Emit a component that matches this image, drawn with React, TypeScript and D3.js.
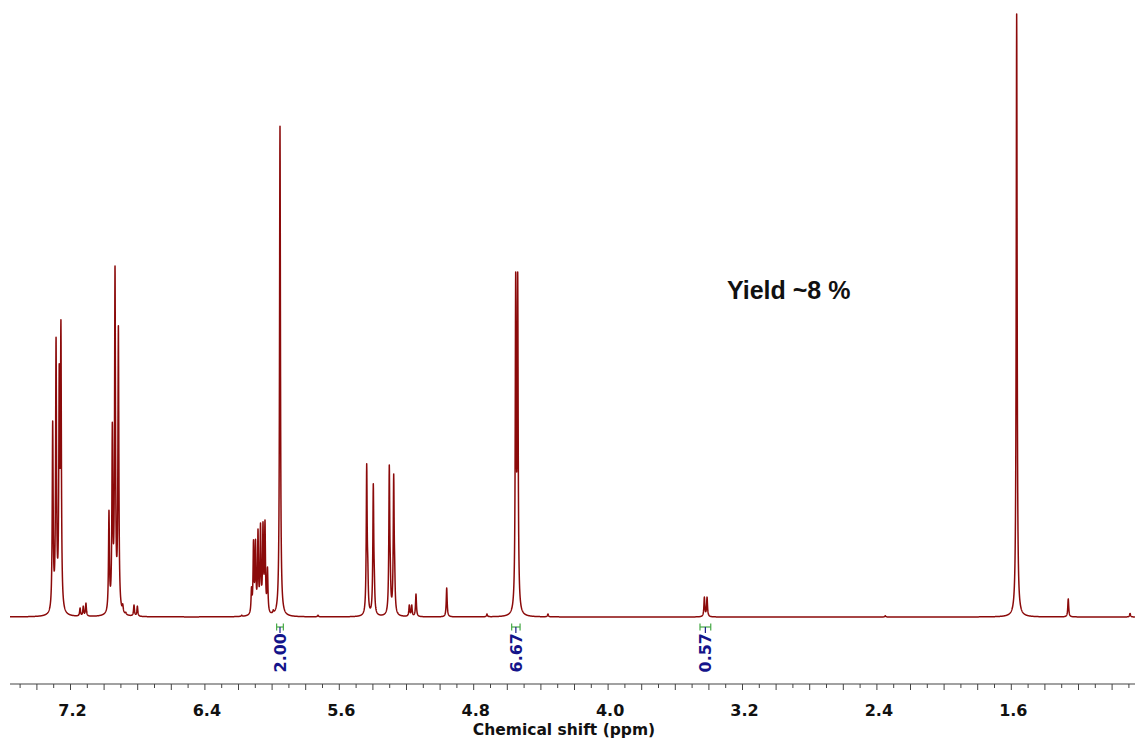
import React from "react";
import * as d3 from "d3";

// Peak positions (ppm) and observed peak-top intensities (largest = 100)
const peakPpm = [
  7.306, 7.286, 7.267, 7.257,
  7.143, 7.124, 7.108,
  6.971, 6.951, 6.935, 6.915,
  6.889, 6.871, 6.822, 6.802,
  6.181,
  6.1226, 6.1107, 6.0988, 6.0839, 6.069, 6.0542, 6.0423, 6.0274, 5.993,
  5.953,
  5.727,
  5.4369, 5.4305, 5.3976, 5.3915, 5.3024, 5.2965, 5.2762, 5.2705,
  5.1833, 5.169, 5.1435, 4.9607,
  4.721,
  4.55, 4.5381,
  4.358,
  3.427, 3.411,
  2.35,
  1.568, 1.261,
  0.893,
];
const peakHeight = [
  32.5, 46.4, 42.0, 49.3,
  1.5, 1.8, 2.3,
  17.7, 32.3, 58.2, 48.3,
  2.2, 0.8, 2.0, 1.8,
  0.3,
  5.0, 12.8, 12.9, 14.6, 15.6, 15.8, 16.1, 8.3, 1.2,
  81.4,
  0.3,
  25.4, 10.0, 22.1, 8.0, 25.2, 10.0, 23.7, 10.0,
  2.0, 2.0, 3.8, 4.8,
  0.5,
  57.2, 57.2,
  0.5,
  3.3, 3.3,
  0.2,
  100, 3.0,
  0.6,
];
const lineWidthPpm = 0.0032;

// Axis ticks
const tickLabels = [7.2, 6.4, 5.6, 4.8, 4.0, 3.2, 2.4, 1.6];

// Integrals: [from ppm, to ppm, value]
const integralFrom = [5.973, 4.574, 3.453];
const integralTo = [5.933, 4.524, 3.389];
const integralValue = ["2.00", "6.67", "0.57"];

const annotation = "Yield ~8 %";
const axisTitle = "Chemical shift (ppm)";

const W = 1135;
const H = 738;

function lorentz(d: number) {
  const u = d / lineWidthPpm;
  return 1 / (1 + u * u);
}

export default function App() {
  const x = d3.scaleLinear().domain([7.2, 1.6]).range([70.5, 70.5 + 5.6 * 168]);
  const y = d3.scaleLinear().domain([0, 100]).range([617, 14]);
  const ppmLeft = x.invert(10);
  const ppmRight = x.invert(W);

  // amplitudes so that summed lines reach the observed peak tops
  const n = peakPpm.length;
  const amp = peakHeight.slice();
  for (let it = 0; it < 60; it++) {
    for (let i = 0; i < n; i++) {
      let s = 0;
      for (let j = 0; j < n; j++) s += amp[j] * lorentz(peakPpm[i] - peakPpm[j]);
      amp[i] = Math.max(0, amp[i] + 0.7 * (peakHeight[i] - s));
    }
  }

  // sampling grid in ppm, plus peak centres
  const grid: number[] = [];
  const step = 0.0008;
  for (let p = ppmLeft; p >= ppmRight; p -= step) grid.push(p);
  peakPpm.forEach((p) => grid.push(p));
  grid.sort((a, b) => b - a);

  const spectrum = grid.map((p) => {
    let s = 0;
    for (let i = 0; i < n; i++) s += amp[i] * lorentz(p - peakPpm[i]);
    return [p, s] as [number, number];
  });

  const line = d3
    .line<[number, number]>()
    .x((d) => x(d[0]))
    .y((d) => y(d[1]));

  const axisY = 684;
  const ticks: number[] = [];
  for (let t = Math.ceil(ppmRight * 10); t <= Math.floor(ppmLeft * 10); t++) ticks.push(t / 10);

  const labelFont = "'DejaVu Sans', Verdana, sans-serif";

  return (
    <svg
      width={W}
      height={H}
      style={{ position: "absolute", left: 0, top: 0, background: "#fff" }}
    >
      <rect width={W} height={H} fill="#fff" />
      <path
        d={line(spectrum) || ""}
        fill="none"
        stroke="#8b0a0a"
        strokeWidth={1.5}
        strokeLinejoin="round"
      />
      {/* integrals */}
      {integralValue.map((v, i) => {
        const x0 = x(integralFrom[i]);
        const x1 = x(integralTo[i]);
        const cx = (x0 + x1) / 2;
        return (
          <g key={v}>
            <line x1={x0} x2={x1} y1={627} y2={627} stroke="#45a845" strokeWidth={1.2} />
            <line x1={x0} x2={x0} y1={623.5} y2={630.5} stroke="#45a845" strokeWidth={1.2} />
            <line x1={x1} x2={x1} y1={623.5} y2={630.5} stroke="#45a845" strokeWidth={1.2} />
            <line x1={cx} x2={cx} y1={627} y2={633} stroke="#1a1a8c" strokeWidth={1.2} />
            <text
              transform={`translate(${cx + 5.8},${633}) rotate(-90)`}
              textAnchor="end"
              fontFamily={labelFont}
              fontWeight="bold"
              fontSize={16}
              fill="#14148a"
            >
              {v}
            </text>
          </g>
        );
      })}
      {/* axis */}
      <line x1={10} x2={W} y1={axisY} y2={axisY} stroke="#444" strokeWidth={1.2} />
      {ticks.map((t) => {
        const major = Math.abs(Math.round(t * 10) % 2) === 0;
        return (
          <line
            key={t}
            x1={x(t)}
            x2={x(t)}
            y1={axisY}
            y2={axisY + (major ? 6 : 4)}
            stroke="#444"
            strokeWidth={1}
          />
        );
      })}
      {tickLabels.map((t) => (
        <text
          key={t}
          x={x(t) + 2}
          y={716}
          textAnchor="middle"
          fontFamily={labelFont}
          fontWeight="bold"
          fontSize={16}
          fill="#111"
        >
          {t.toFixed(1)}
        </text>
      ))}
      <text
        x={564}
        y={735}
        textAnchor="middle"
        fontFamily={labelFont}
        fontWeight="bold"
        fontSize={15.5}
        fill="#111"
      >
        {axisTitle}
      </text>
      <text
        x={727}
        y={299}
        fontFamily="'Liberation Sans', Arial, sans-serif"
        fontWeight="bold"
        fontSize={25}
        fill="#111"
      >
        {annotation}
      </text>
    </svg>
  );
}
